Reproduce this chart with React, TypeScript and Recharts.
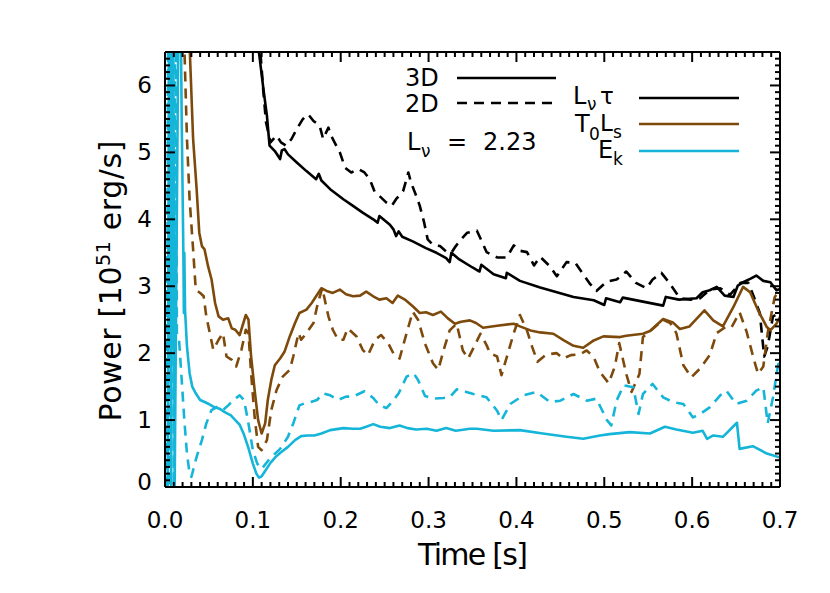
import { LineChart, Line, XAxis, YAxis } from "recharts";

const BLACK = "#000000";
const BROWN = "#7d4a0c";
const CYAN = "#15b5d9";
const FONT = "'DejaVu Sans', sans-serif";

// time [s], power [10^51 erg/s]
const lnuTau3D: [number, number][] = [
  [0.095, 8.5], [0.106, 6.6], [0.112, 5.95], [0.116, 5.55], [0.119, 5.1], [0.125, 5.02],
  [0.131, 4.9], [0.133, 5.03], [0.136, 5.05], [0.14, 4.97], [0.15, 4.85], [0.161, 4.72],
  [0.172, 4.6], [0.175, 4.68], [0.178, 4.58], [0.188, 4.45], [0.203, 4.3], [0.214, 4.2],
  [0.225, 4.1], [0.237, 4.0], [0.242, 3.95], [0.244, 4.05], [0.256, 3.92], [0.26, 3.85],
  [0.263, 3.75], [0.266, 3.82], [0.27, 3.74], [0.282, 3.67], [0.297, 3.57], [0.309, 3.5],
  [0.32, 3.42], [0.324, 3.36], [0.326, 3.5], [0.335, 3.4], [0.35, 3.28], [0.358, 3.22],
  [0.36, 3.32], [0.374, 3.18], [0.388, 3.12], [0.389, 3.2], [0.404, 3.08], [0.427, 2.98],
  [0.446, 2.91], [0.465, 2.84], [0.488, 2.79], [0.5, 2.72], [0.502, 2.82], [0.518, 2.76],
  [0.521, 2.83], [0.544, 2.77], [0.567, 2.71], [0.57, 2.84], [0.585, 2.8], [0.605, 2.82],
  [0.612, 2.91], [0.62, 2.94], [0.628, 2.99], [0.637, 2.86], [0.647, 2.84], [0.652, 3.01],
  [0.658, 3.06], [0.666, 3.11], [0.673, 3.16], [0.681, 3.08], [0.689, 3.06], [0.696, 2.94],
  [0.7, 2.96],
];

const lnuTau2D: [number, number][] = [
  [0.095, 8.5], [0.108, 6.6], [0.112, 5.9], [0.115, 5.45], [0.12, 5.15], [0.127, 5.25],
  [0.132, 5.15], [0.138, 5.1], [0.144, 5.2], [0.15, 5.35], [0.157, 5.5], [0.163, 5.57],
  [0.169, 5.47], [0.176, 5.4], [0.18, 5.2], [0.186, 5.37], [0.189, 5.25], [0.199, 5.0],
  [0.205, 4.77], [0.212, 4.7], [0.22, 4.75], [0.227, 4.7], [0.233, 4.6], [0.239, 4.4],
  [0.244, 4.35], [0.252, 4.25], [0.258, 4.2], [0.263, 4.3], [0.271, 4.42], [0.277, 4.7],
  [0.28, 4.55], [0.286, 4.35], [0.29, 4.2], [0.295, 3.95], [0.299, 3.7], [0.305, 3.62],
  [0.313, 3.6], [0.32, 3.52], [0.326, 3.5], [0.331, 3.6], [0.337, 3.7], [0.344, 3.8],
  [0.355, 3.83], [0.362, 3.63], [0.366, 3.51], [0.378, 3.43], [0.389, 3.43], [0.397, 3.61],
  [0.404, 3.53], [0.412, 3.51], [0.42, 3.31], [0.427, 3.44], [0.438, 3.3], [0.446, 3.15],
  [0.457, 3.36], [0.467, 3.35], [0.476, 3.18], [0.484, 3.03], [0.491, 2.93], [0.503, 3.07],
  [0.514, 3.1], [0.525, 3.22], [0.536, 3.05], [0.548, 2.97], [0.555, 3.1], [0.565, 3.2],
  [0.574, 3.05], [0.586, 2.82], [0.598, 2.8], [0.609, 2.82], [0.62, 2.95], [0.632, 2.97],
  [0.643, 2.87], [0.655, 3.05], [0.664, 3.05], [0.67, 2.85], [0.677, 2.6], [0.682, 1.95],
  [0.686, 2.1], [0.692, 2.55], [0.7, 2.6],
];

const t0Ls3D: [number, number][] = [
  [0.02, 9], [0.028, 6.6], [0.032, 5.2], [0.036, 4.45], [0.039, 3.8], [0.042, 3.6],
  [0.045, 3.55], [0.049, 3.3], [0.053, 3.1], [0.057, 2.75], [0.061, 2.55], [0.066, 2.5],
  [0.072, 2.52], [0.076, 2.37], [0.08, 2.35], [0.085, 2.27], [0.088, 2.4], [0.092, 2.57],
  [0.095, 2.5], [0.098, 1.95], [0.102, 1.45], [0.106, 1.0], [0.11, 0.8], [0.114, 0.95],
  [0.117, 1.3], [0.121, 1.6], [0.125, 1.82], [0.131, 1.92], [0.136, 2.02], [0.142, 2.25],
  [0.148, 2.45], [0.153, 2.6], [0.161, 2.65], [0.167, 2.75], [0.172, 2.85], [0.178, 2.97],
  [0.184, 2.93], [0.191, 2.9], [0.199, 2.95], [0.206, 2.88], [0.214, 2.85], [0.222, 2.86],
  [0.229, 2.92], [0.237, 2.85], [0.244, 2.8], [0.252, 2.82], [0.259, 2.75], [0.265, 2.86],
  [0.273, 2.8], [0.282, 2.7], [0.29, 2.6], [0.297, 2.61], [0.305, 2.57], [0.314, 2.62],
  [0.322, 2.52], [0.33, 2.44], [0.337, 2.47], [0.347, 2.49], [0.354, 2.45], [0.362, 2.38],
  [0.378, 2.41], [0.397, 2.44], [0.404, 2.4], [0.416, 2.34], [0.427, 2.31], [0.442, 2.29],
  [0.454, 2.19], [0.465, 2.11], [0.476, 2.08], [0.488, 2.19], [0.499, 2.25], [0.518, 2.24],
  [0.525, 2.26], [0.544, 2.29], [0.552, 2.33], [0.567, 2.51], [0.578, 2.46], [0.586, 2.36],
  [0.597, 2.4], [0.614, 2.64], [0.624, 2.49], [0.635, 2.4], [0.647, 2.69], [0.658, 2.99],
  [0.666, 2.91], [0.675, 2.64], [0.685, 2.39], [0.689, 2.34], [0.696, 2.44], [0.7, 2.54],
];

const t0Ls2D: [number, number][] = [
  [0.015, 9], [0.022, 6.6], [0.025, 5.2], [0.028, 4.3], [0.032, 3.55], [0.035, 2.95],
  [0.04, 2.9], [0.044, 2.85], [0.047, 2.55], [0.051, 2.3], [0.055, 2.05], [0.061, 2.2],
  [0.066, 2.3], [0.07, 1.95], [0.076, 1.9], [0.081, 1.8], [0.087, 2.05], [0.092, 2.35],
  [0.095, 2.3], [0.098, 1.7], [0.102, 1.05], [0.106, 0.6], [0.11, 0.55], [0.116, 0.7],
  [0.121, 1.15], [0.127, 1.45], [0.134, 1.65], [0.142, 1.75], [0.146, 1.95], [0.152, 2.3],
  [0.155, 2.2], [0.161, 2.3], [0.169, 2.45], [0.174, 2.75], [0.179, 2.97], [0.186, 2.55],
  [0.191, 2.35], [0.197, 2.2], [0.203, 2.2], [0.208, 2.37], [0.218, 2.25], [0.225, 2.05],
  [0.231, 1.97], [0.239, 2.2], [0.246, 2.27], [0.254, 2.15], [0.261, 1.97], [0.267, 1.92],
  [0.275, 2.3], [0.282, 2.62], [0.288, 2.5], [0.296, 2.14], [0.305, 1.85], [0.311, 1.75],
  [0.317, 2.04], [0.324, 2.34], [0.332, 2.44], [0.339, 2.04], [0.345, 1.92], [0.352, 2.1],
  [0.359, 2.29], [0.366, 2.12], [0.37, 2.0], [0.378, 1.95], [0.383, 1.67], [0.389, 1.94],
  [0.397, 2.3], [0.404, 2.57], [0.412, 2.34], [0.418, 2.09], [0.424, 1.87], [0.434, 1.98],
  [0.446, 2.0], [0.453, 1.92], [0.462, 1.97], [0.472, 1.98], [0.48, 2.04], [0.488, 1.94],
  [0.495, 1.72], [0.505, 1.55], [0.512, 1.8], [0.517, 2.15], [0.525, 1.69], [0.531, 1.42],
  [0.54, 1.69], [0.544, 2.24], [0.555, 2.36], [0.567, 2.5], [0.575, 2.45], [0.582, 2.3],
  [0.59, 1.82], [0.599, 1.64], [0.609, 1.77], [0.62, 1.97], [0.628, 2.3], [0.639, 2.4],
  [0.645, 2.39], [0.654, 2.61], [0.662, 2.32], [0.67, 1.92], [0.675, 1.69], [0.681, 1.8],
  [0.686, 2.3], [0.694, 2.84], [0.7, 2.94],
];

const ek3D: [number, number][] = [
  [0.003, 0], [0.005, 9], [0.007, 0], [0.009, 9], [0.011, 0], [0.0165, 9], [0.019, 5.5],
  [0.021, 3.4], [0.0215, 2.6], [0.022, 3.5], [0.0228, 2.65], [0.025, 2.1], [0.028, 1.7],
  [0.031, 1.5], [0.035, 1.4], [0.04, 1.3], [0.045, 1.27], [0.05, 1.24], [0.055, 1.2],
  [0.062, 1.17], [0.068, 1.12], [0.075, 1.07], [0.08, 1.0], [0.085, 0.93], [0.09, 0.78],
  [0.095, 0.58], [0.1, 0.35], [0.104, 0.2], [0.107, 0.14], [0.11, 0.16], [0.114, 0.24],
  [0.12, 0.36], [0.126, 0.45], [0.132, 0.52], [0.14, 0.6], [0.148, 0.7], [0.155, 0.76],
  [0.162, 0.77], [0.17, 0.77], [0.178, 0.8], [0.188, 0.85], [0.203, 0.88], [0.214, 0.87],
  [0.222, 0.87], [0.229, 0.9], [0.237, 0.94], [0.245, 0.9], [0.256, 0.88], [0.267, 0.92],
  [0.276, 0.88], [0.286, 0.86], [0.298, 0.87], [0.309, 0.84], [0.32, 0.88], [0.331, 0.84],
  [0.347, 0.87], [0.355, 0.87], [0.374, 0.84], [0.404, 0.85], [0.43, 0.8], [0.457, 0.75],
  [0.476, 0.72], [0.495, 0.77], [0.506, 0.79], [0.529, 0.82], [0.552, 0.8], [0.569, 0.9],
  [0.582, 0.86], [0.601, 0.81], [0.612, 0.84], [0.617, 0.72], [0.624, 0.77], [0.635, 0.75],
  [0.651, 0.96], [0.654, 0.57], [0.669, 0.61], [0.685, 0.5], [0.7, 0.44],
];

const ek2D: [number, number][] = [
  [0.002, 0], [0.004, 9], [0.006, 0], [0.008, 9], [0.01, 0], [0.012, 9], [0.0135, 2.3],
  [0.016, 2.2], [0.019, 1.6], [0.022, 1.0], [0.025, 0.5], [0.028, 0.2], [0.03, 0.15],
  [0.033, 0.3], [0.036, 0.45], [0.042, 0.7], [0.047, 0.95], [0.053, 1.15], [0.06, 1.2],
  [0.066, 1.15], [0.072, 1.22], [0.078, 1.3], [0.085, 1.37], [0.09, 1.3], [0.095, 0.95],
  [0.1, 0.55], [0.105, 0.35], [0.11, 0.27], [0.119, 0.42], [0.131, 0.57], [0.14, 0.75],
  [0.146, 0.95], [0.153, 1.22], [0.159, 1.25], [0.166, 1.27], [0.173, 1.3], [0.18, 1.4],
  [0.188, 1.37], [0.197, 1.3], [0.206, 1.35], [0.214, 1.35], [0.227, 1.43], [0.237, 1.33],
  [0.244, 1.22], [0.252, 1.18], [0.259, 1.28], [0.266, 1.4], [0.275, 1.65], [0.283, 1.7],
  [0.288, 1.6], [0.296, 1.36], [0.305, 1.32], [0.317, 1.33], [0.324, 1.34], [0.332, 1.46],
  [0.343, 1.42], [0.351, 1.39], [0.366, 1.34], [0.378, 1.14], [0.383, 1.0], [0.393, 1.24],
  [0.408, 1.37], [0.423, 1.42], [0.438, 1.27], [0.45, 1.29], [0.465, 1.39], [0.48, 1.29],
  [0.491, 1.32], [0.503, 1.0], [0.508, 0.92], [0.514, 1.29], [0.522, 1.52], [0.533, 1.49],
  [0.539, 1.09], [0.544, 1.39], [0.555, 1.54], [0.567, 1.34], [0.578, 1.27], [0.59, 1.24],
  [0.601, 1.04], [0.609, 1.09], [0.62, 1.19], [0.632, 1.37], [0.639, 1.44], [0.65, 1.24],
  [0.662, 1.29], [0.673, 1.44], [0.681, 1.49], [0.686, 0.95], [0.692, 1.34], [0.698, 1.84],
  [0.7, 1.85],
];

// axis ticks: major every 0.1 s / 1 unit, minor every 0.01 s / 0.1 unit
const xTicks = Array.from({ length: 71 }, (_, i) => i / 100);
const yTicks = Array.from({ length: 66 }, (_, i) => i / 10);
const xTickLabels = ["0.0", "0.1", "0.2", "0.3", "0.4", "0.5", "0.6", "0.7"];
const yTickLabels = ["0", "1", "2", "3", "4", "5", "6"];

const series = [
  { key: "lnuTau3D", pts: lnuTau3D, color: BLACK, dash: undefined },
  { key: "lnuTau2D", pts: lnuTau2D, color: BLACK, dash: "10 7" },
  { key: "t0Ls3D", pts: t0Ls3D, color: BROWN, dash: undefined },
  { key: "t0Ls2D", pts: t0Ls2D, color: BROWN, dash: "10 7" },
  { key: "ek3D", pts: ek3D, color: CYAN, dash: undefined },
  { key: "ek2D", pts: ek2D, color: CYAN, dash: "10 7" },
];

const toRows = (pts: [number, number][]) => pts.map(([t, v]) => ({ t, v }));

const majorIndex = (value: number, per: number) => {
  const k = value * per;
  return Math.abs(k - Math.round(k)) < 1e-6 ? Math.round(k) : -1;
};

const MAJOR = 10;
const MINOR = 5;

function BottomTick({ x, y, payload }: any) {
  const i = majorIndex(payload.value, 10);
  return (
    <g>
      <line x1={x} x2={x} y1={y} y2={y - (i >= 0 ? MAJOR : MINOR)} stroke={BLACK} strokeWidth={2} />
      {i >= 0 && (
        <text x={x} y={y + 41} textAnchor="middle" fontFamily={FONT} fontSize={23} fill={BLACK}>
          {xTickLabels[i]}
        </text>
      )}
    </g>
  );
}

function TopTick({ x, y, payload }: any) {
  const i = majorIndex(payload.value, 10);
  return <line x1={x} x2={x} y1={y} y2={y + (i >= 0 ? MAJOR : MINOR)} stroke={BLACK} strokeWidth={2} />;
}

function LeftTick({ x, y, payload }: any) {
  const i = majorIndex(payload.value, 1);
  // the bottom label sits a little above its tick so it clears the x labels
  const lift = i === 0 ? 5 : 0;
  return (
    <g>
      <line x1={x} x2={x + (i >= 0 ? MAJOR : MINOR)} y1={y} y2={y} stroke={BLACK} strokeWidth={2} />
      {i >= 0 && (
        <text x={x - 13} y={y + 8 - lift} textAnchor="end" fontFamily={FONT} fontSize={23} fill={BLACK}>
          {yTickLabels[i]}
        </text>
      )}
    </g>
  );
}

function RightTick({ x, y, payload }: any) {
  const i = majorIndex(payload.value, 1);
  return <line x1={x} x2={x - (i >= 0 ? MAJOR : MINOR)} y1={y} y2={y} stroke={BLACK} strokeWidth={2} />;
}

function Overlay() {
  const txt = { fontFamily: FONT, fill: BLACK } as const;
  return (
    <svg
      width={830}
      height={593}
      style={{ position: "absolute", left: 0, top: 0, pointerEvents: "none" }}
    >
      {/* axis titles */}
      <text x={473} y={565} textAnchor="middle" fontSize={30} textLength={110} lengthAdjust="spacing" {...txt}>
        Time [s]
      </text>
      <text
        transform="translate(121,281) rotate(-90)"
        textAnchor="middle"
        fontSize={30}
        textLength={281}
        lengthAdjust="spacing"
        {...txt}
      >
        Power [10
        <tspan dy={-11} fontSize={19}>51</tspan>
        <tspan dy={11}>  erg/s]</tspan>
      </text>

      {/* dimensionality legend */}
      <text x={405} y={86} fontSize={24} {...txt}>3D</text>
      <line x1={457} x2={556} y1={78} y2={78} stroke={BLACK} strokeWidth={2.6} />
      <text x={405} y={112} fontSize={24} {...txt}>2D</text>
      <line x1={457} x2={556} y1={103} y2={103} stroke={BLACK} strokeWidth={2.6} strokeDasharray="10 7" />
      <text x={407} y={150} fontSize={24} {...txt}>L</text>
      <text x={421} y={157} fontSize={17} {...txt}>ν</text>
      <text x={447} y={150} fontSize={24} {...txt}>=</text>
      <text x={483} y={150} fontSize={24} {...txt}>2.23</text>

      {/* quantity legend */}
      <text x={573} y={104} fontSize={24} {...txt}>L</text>
      <text x={587} y={110} fontSize={17} {...txt}>ν</text>
      <text x={600} y={104} fontSize={23} {...txt}>τ</text>
      <line x1={639} x2={739} y1={98} y2={98} stroke={BLACK} strokeWidth={2.6} />

      <text x={575} y={132} fontSize={24} {...txt}>T</text>
      <text x={589} y={140} fontSize={17} {...txt}>0</text>
      <text x={600} y={131} fontSize={23} {...txt}>L</text>
      <text x={613} y={138} fontSize={17} {...txt}>s</text>
      <line x1={639} x2={739} y1={124} y2={124} stroke={BROWN} strokeWidth={2.6} />

      <text x={598} y={158} fontSize={24} {...txt}>E</text>
      <text x={613} y={165} fontSize={17} {...txt}>k</text>
      <line x1={639} x2={739} y1={151} y2={151} stroke={CYAN} strokeWidth={2.6} />
    </svg>
  );
}

export default function App() {
  return (
    <div style={{ position: "absolute", left: 0, top: 0, width: 830, height: 593, background: "#fff" }}>
      <LineChart width={830} height={593} margin={{ top: 42, right: 40, bottom: 46, left: 105 }}>
        <XAxis
          xAxisId="b"
          type="number"
          dataKey="t"
          domain={[0, 0.7]}
          ticks={xTicks}
          interval={0}
          allowDataOverflow
          tick={<BottomTick />}
          tickLine={false}
          tickSize={0}
          tickMargin={0}
          height={60}
          axisLine={{ stroke: BLACK, strokeWidth: 2 }}
        />
        <XAxis
          xAxisId="t"
          orientation="top"
          type="number"
          dataKey="t"
          domain={[0, 0.7]}
          ticks={xTicks}
          interval={0}
          allowDataOverflow
          tick={<TopTick />}
          tickLine={false}
          tickSize={0}
          tickMargin={0}
          height={10}
          axisLine={{ stroke: BLACK, strokeWidth: 2 }}
        />
        <YAxis
          yAxisId="l"
          type="number"
          domain={[0, 6.5]}
          ticks={yTicks}
          interval={0}
          allowDataOverflow
          tick={<LeftTick />}
          tickLine={false}
          tickSize={0}
          tickMargin={0}
          width={60}
          axisLine={{ stroke: BLACK, strokeWidth: 2 }}
        />
        <YAxis
          yAxisId="r"
          orientation="right"
          type="number"
          domain={[0, 6.5]}
          ticks={yTicks}
          interval={0}
          allowDataOverflow
          tick={<RightTick />}
          tickLine={false}
          tickSize={0}
          tickMargin={0}
          width={10}
          axisLine={{ stroke: BLACK, strokeWidth: 2 }}
        />
        {series.map((s) => (
          <Line
            key={s.key}
            xAxisId="b"
            yAxisId="l"
            data={toRows(s.pts)}
            dataKey="v"
            type="linear"
            stroke={s.color}
            strokeWidth={2.6}
            strokeDasharray={s.dash}
            strokeLinejoin="round"
            dot={false}
            activeDot={false}
            isAnimationActive={false}
          />
        ))}
      </LineChart>
      <Overlay />
    </div>
  );
}
